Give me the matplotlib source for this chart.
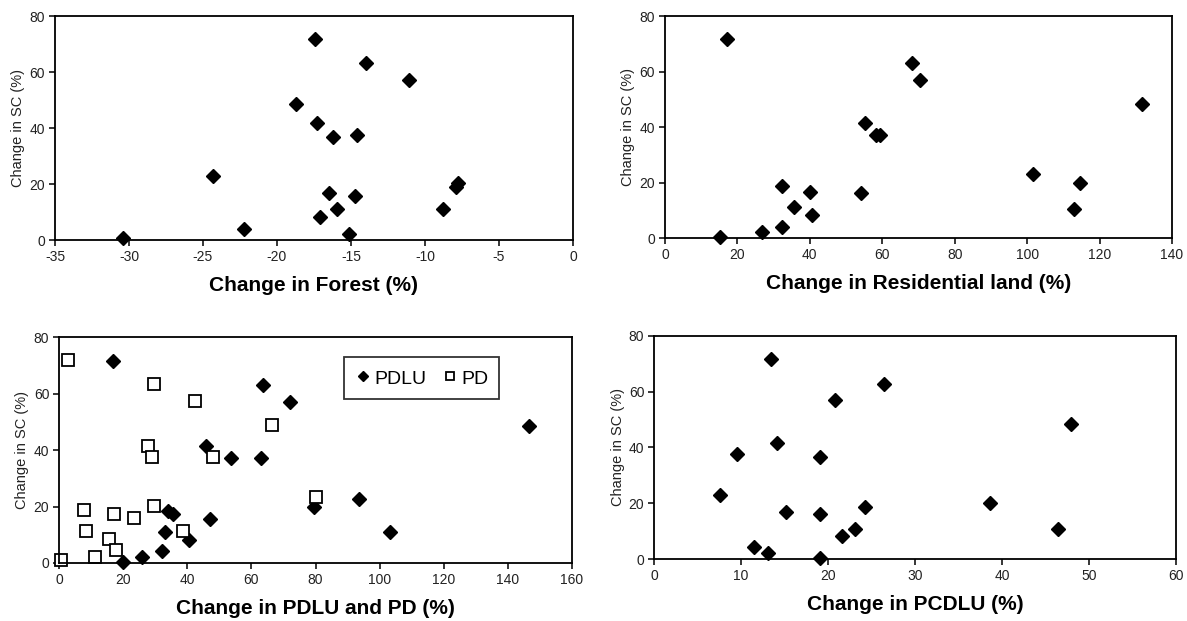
import matplotlib
matplotlib.use("Agg")
import matplotlib.pyplot as plt

plt.rcParams['font.family'] = ['Liberation Sans', 'DejaVu Sans']
plt.rcParams['axes.unicode_minus'] = False

# ---------- Change in soil carbon (SC, %) against land-use drivers ----------
forest = [-30.4, -24.3, -22.2, -18.7, -17.4, -14.0, -11.1, -17.3, -16.2,
          -14.6, -7.8, -7.9, -16.5, -14.75, -15.95, -8.8, -17.1, -15.1]
sc_forest = [0.7, 22.9, 4.0, 48.7, 71.7, 63.1, 57.0, 41.7, 36.9,
             37.5, 20.2, 18.8, 16.7, 15.8, 11.0, 11.0, 8.2, 2.1]

residential = [17.1, 15.3, 26.7, 32.4, 32.4, 35.6, 40.0, 40.5, 54.0,
               55.3, 58.3, 59.5, 68.2, 70.4, 131.8, 101.6, 114.5, 112.8]
sc_residential = [71.6, 0.5, 2.3, 4.1, 18.9, 11.3, 16.7, 8.3, 16.1,
                  41.3, 37.1, 37.1, 63.0, 56.8, 48.4, 23.2, 19.7, 10.3]

pdlu = [16.9, 20.0, 26.0, 32.1, 33.1, 33.9, 35.5, 40.7, 45.9,
        47.1, 53.8, 62.9, 63.5, 71.9, 146.6, 79.5, 93.5, 103.3]
sc_pdlu = [71.6, 0.4, 2.1, 4.1, 11.0, 18.5, 17.5, 8.2, 41.3,
           15.7, 37.2, 37.2, 62.9, 57.0, 48.4, 19.8, 22.6, 11.0]

pd = [2.7, 0.5, 7.8, 8.3, 11.3, 17.2, 15.6, 17.9, 23.3,
      29.5, 27.9, 28.9, 29.5, 38.8, 42.4, 47.9, 66.5, 80.0]
sc_pd = [72.0, 0.9, 18.9, 11.2, 2.3, 17.5, 8.5, 4.5, 15.9,
         63.2, 41.5, 37.5, 20.3, 11.2, 57.5, 37.4, 49.0, 23.4]

pcdlu = [13.5, 9.5, 7.6, 11.5, 13.1, 14.1, 15.2, 19.1, 19.1,
         19.1, 20.8, 21.6, 23.1, 24.3, 26.4, 47.9, 38.6, 46.4]
sc_pcdlu = [71.6, 37.6, 22.9, 4.2, 2.1, 41.7, 16.7, 36.7, 16.0,
            0.4, 57.0, 8.2, 10.8, 18.6, 62.7, 48.6, 20.0, 10.8]


fig = plt.figure(figsize=(11.87, 6.21), dpi=100)

# axes rectangles [left, bottom, width, height] in figure fractions
ax1 = fig.add_axes([0.0463, 0.6135, 0.4364, 0.3607])
ax2 = fig.add_axes([0.5602, 0.6167, 0.4272, 0.3575])
ax3 = fig.add_axes([0.0497, 0.0934, 0.4322, 0.3639])
ax4 = fig.add_axes([0.5510, 0.0998, 0.4397, 0.3592])


def style(ax, xlim, xticks, xlabel):
    ax.set_xlim(*xlim)
    ax.set_ylim(0, 80)
    ax.set_xticks(xticks)
    ax.set_yticks([0, 20, 40, 60, 80])
    for s in ax.spines.values():
        s.set_linewidth(1.3)
        s.set_color('black')
    ax.tick_params(direction='out', length=4, width=1.1, labelsize=10,
                   labelcolor='#222222', pad=3)
    ax.set_ylabel('Change in SC (%)', fontsize=10.5, color='#222222', labelpad=3)
    ax.set_xlabel(xlabel, fontsize=15, fontweight='bold', labelpad=9)


diamond = dict(marker='D', color='black', markersize=7, linestyle='none',
               clip_on=False)

ax1.plot(forest, sc_forest, **diamond)
style(ax1, (-35, 0), range(-35, 1, 5), 'Change in Forest (%)')

ax2.plot(residential, sc_residential, **diamond)
style(ax2, (0, 140), range(0, 141, 20), 'Change in Residential land (%)')

ax3.plot(pdlu, sc_pdlu, label='PDLU', **diamond)
ax3.plot(pd, sc_pd, marker='s', markersize=8, markerfacecolor='white',
         markeredgecolor='black', markeredgewidth=1.3, linestyle='none',
         clip_on=False, label='PD')
style(ax3, (0, 160), range(0, 161, 20), 'Change in PDLU and PD (%)')
leg = ax3.legend(loc='upper left', bbox_to_anchor=(0.556, 0.912),
                 borderaxespad=0, ncol=2, fontsize=14, frameon=True,
                 fancybox=False, borderpad=0.55, handleheight=1.2,
                 handlelength=0.8, handletextpad=0.2, columnspacing=0.8,
                 markerscale=0.75)
leg.get_frame().set_edgecolor('black')
leg.get_frame().set_linewidth(1.3)

ax4.plot(pcdlu, sc_pcdlu, **diamond)
style(ax4, (0, 60), range(0, 61, 10), 'Change in PCDLU (%)')

fig.savefig('out.png', dpi=100)
